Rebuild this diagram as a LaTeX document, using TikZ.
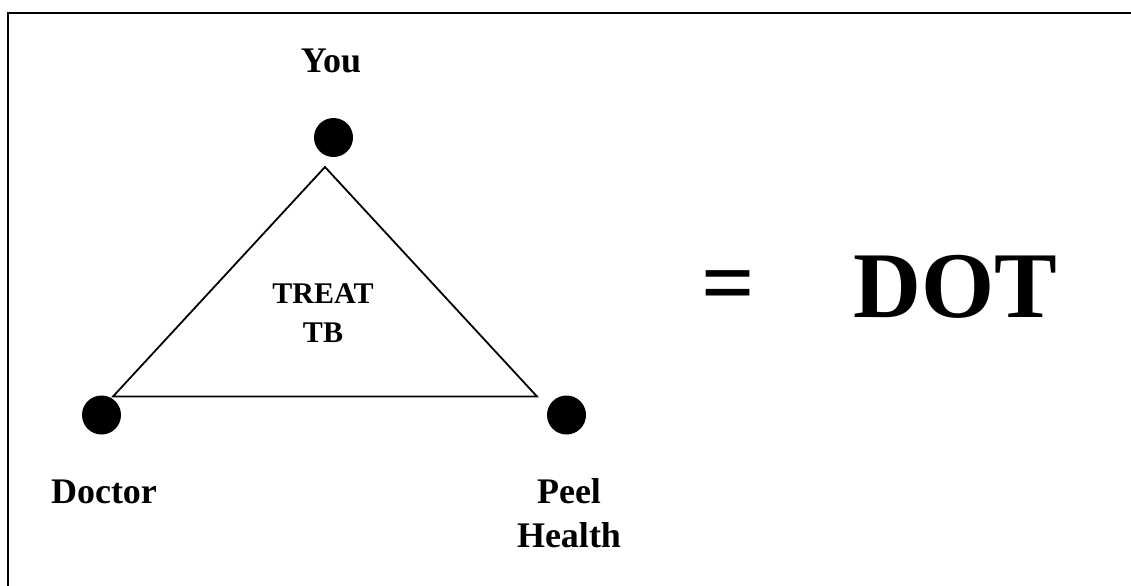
\documentclass[tikz,border=0pt]{standalone}
\usepackage{fontspec}
\setmainfont{Liberation Serif}
\begin{document}
\begin{tikzpicture}[x=0.5pt, y=-0.5pt, line join=miter,
  dot/.style={circle, fill=black, inner sep=0pt, minimum size=19.5pt},
  lbl/.style={font=\bfseries\fontsize{18}{22}\selectfont, align=center, anchor=base, inner sep=0pt},
  big/.style={font=\bfseries\fontsize{47}{56}\selectfont, anchor=base, inner sep=0pt}]
\useasboundingbox (0,0) rectangle (1131,585);
\clip (0,0) rectangle (1131,585);
\draw [line width=1.1pt] (8,13) rectangle (1160,610);
\node [dot] (you) at (333.5,137.5) {};
\node [dot] (doctor) at (101.5,415) {};
\node [dot] (peel) at (566.5,415) {};
\node [lbl] (youlbl) at (331,72) {You};
\node [lbl] (doctorlbl) at (104,503) {Doctor};
\node [lbl] (peellbl) at (569,547) {Peel\\Health};
\coordinate (tapex) at (325,167);
\coordinate (tleft) at (113,396.5);
\coordinate (tright) at (537,396.5);
\draw [line width=0.9pt] (tapex) -- (tleft) -- (tright) -- cycle;
\node [lbl, font=\bfseries\fontsize{15}{19.5}\selectfont] (treat) at (323,342) {TREAT\\TB};
\node [big] (equals) at (728.5,314) {=};
\node [big] (dotlbl) at (955,317) {DOT};
\end{tikzpicture}
\end{document}
